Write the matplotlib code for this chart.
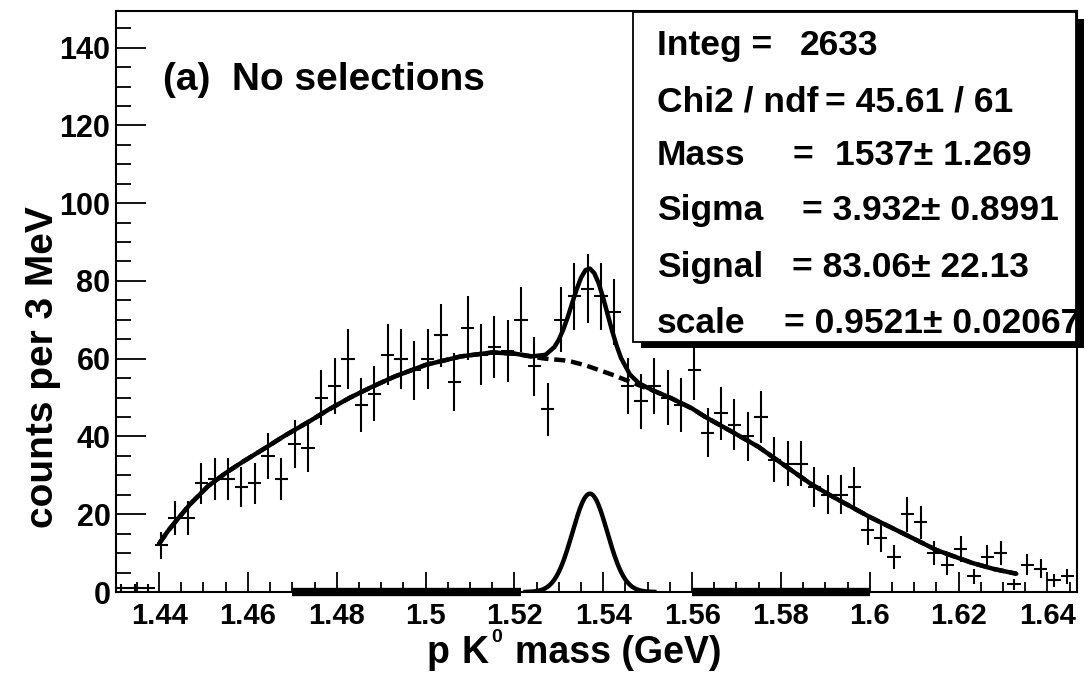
import numpy as np
import matplotlib
matplotlib.use("Agg")
from matplotlib import pyplot as plt
from matplotlib.patches import Rectangle
from matplotlib.ticker import MultipleLocator, FuncFormatter

plt.rcParams['font.family'] = ['Liberation Sans', 'DejaVu Sans']
plt.rcParams['font.weight'] = 'bold'

# histogram: 3 MeV bins starting at 1.43 GeV
mass_lo = 1.43
bin_width = 0.003
counts = [1, 1, 1, 12, 19, 19, 28, 29, 29, 27,
          28, 35, 29, 38, 37, 50, 53, 60, 48, 51,
          61, 60, 57, 60, 66, 54, 68, 61, 63, 62,
          70, 58, 47, 70, 76, 78, 76, 72, 53, 49,
          53, 50, 48, 57, 41, 46, 43, 40, 45, 34,
          33, 33, 27, 25, 25, 27, 16, 14, 9, 20,
          18, 10, 7, 11, 4, 9, 10, 2, 7, 6, 3, 4]

# background part of the fit (GeV, counts per bin)
bkg_mass = [1.4400, 1.4420, 1.4440, 1.4470, 1.4510, 1.4550, 1.4590, 1.4640,
            1.4680, 1.4740, 1.4780, 1.4830, 1.4880, 1.4930, 1.5000, 1.5080,
            1.5150, 1.5200, 1.5240, 1.5270, 1.5290, 1.5300, 1.5310, 1.5320,
            1.5330, 1.5340, 1.5350, 1.5360, 1.5370, 1.5380, 1.5390, 1.5400,
            1.5410, 1.5420, 1.5430, 1.5440, 1.5460, 1.5480, 1.5510, 1.5550,
            1.5600, 1.5630, 1.5690, 1.5750, 1.5810, 1.5870, 1.5920, 1.6000,
            1.6080, 1.6150, 1.6230, 1.6280, 1.6330]
bkg_fit = [12.4, 15.7, 18.5, 22.6, 27.2, 30.6, 33.6, 37.1,
           40.0, 44.0, 46.8, 50.0, 52.8, 55.4, 58.4, 60.6,
           61.6, 61.3, 60.5, 60.0, 59.8, 59.7, 59.6, 59.4,
           59.2, 58.9, 58.6, 58.3, 57.9, 57.5, 57.1, 56.7,
           56.3, 55.9, 55.5, 55.0, 54.1, 53.2, 51.9, 50.0,
           47.2, 45.0, 41.2, 37.3, 32.4, 27.6, 24.3, 19.3,
           14.8, 10.8, 7.5, 5.9, 4.7]

# fit results
integ = 2633
chi2, ndf = 45.61, 61
fit_mass, fit_mass_err = 1537, 1.269          # MeV
fit_sigma, fit_sigma_err = 3.932, 0.8991      # MeV
fit_signal, fit_signal_err = 83.06, 22.13
fit_scale, fit_scale_err = 0.9521, 0.02067

sideband_ranges = [(1.47, 1.5215), (1.56, 1.60)]

W, H = 1089, 676


def fpos(x, y):
    return x / W, 1 - y / H


def gauss(m):
    m = np.asarray(m)
    amp = fit_signal * bin_width * 1000 / (np.sqrt(2 * np.pi) * fit_sigma)
    return amp * np.exp(-0.5 * ((m - fit_mass / 1000) / (fit_sigma / 1000)) ** 2)


counts = np.array(counts, dtype=float)
centers = mass_lo + bin_width * (np.arange(len(counts)) + 0.5)

fig = plt.figure(figsize=(W / 100, H / 100), dpi=100)
ax = fig.add_axes([116 / W, 1 - 592 / H, (1076.7 - 116) / W, (592 - 10.7) / H])

ax.errorbar(centers, counts, xerr=bin_width / 2, yerr=np.sqrt(counts),
            fmt='none', ecolor='black', elinewidth=1.5, capsize=0, zorder=2)

# total fit = background + gaussian signal
ax.plot(bkg_mass, np.array(bkg_fit) + gauss(bkg_mass), color='black', lw=3.2,
        solid_capstyle='round', solid_joinstyle='round', zorder=4)
ax.plot(bkg_mass, bkg_fit, color='black', lw=3.2, ls=(0, (2.5, 1.3)), zorder=3)

# signal alone
m_sig = np.linspace(1.5225, 1.5515, 200)
ax.plot(m_sig, gauss(m_sig), color='black', lw=3.2, zorder=4)

for lo, hi in sideband_ranges:
    ax.plot([lo, hi], [0, 0], color='black', lw=6, solid_capstyle='butt',
            clip_on=False, zorder=5)

ax.set_xlim(1.4303, 1.6466)
ax.set_ylim(0, 149.5)
ax.xaxis.set_major_locator(MultipleLocator(0.02))
ax.xaxis.set_minor_locator(MultipleLocator(0.005))
ax.yaxis.set_major_locator(MultipleLocator(20))
ax.yaxis.set_minor_locator(MultipleLocator(5))
ax.xaxis.set_major_formatter(FuncFormatter(lambda v, _: f'{v:g}'))
ax.yaxis.set_major_formatter(FuncFormatter(lambda v, _: f'{v:g}'))
ax.tick_params(axis='x', which='major', direction='in', length=14.4, width=1.3,
               labelsize=21, pad=7)
ax.tick_params(axis='x', which='minor', direction='in', length=7.2, width=1.3)
ax.tick_params(axis='y', which='major', direction='in', length=21.6, width=1.3,
               labelsize=22, pad=4)
ax.tick_params(axis='y', which='minor', direction='in', length=10.8, width=1.3)
for s in ax.spines.values():
    s.set_linewidth(1.5)

# axis titles
fig.text(*fpos(43, 367), 'counts per 3 MeV', rotation=90, ha='center',
         va='center', fontsize=28)
fig.text(*fpos(427, 663), 'p', fontsize=27, va='baseline')
fig.text(*fpos(461, 663), 'K', fontsize=27, va='baseline')
fig.text(*fpos(491, 642), '0', fontsize=14, va='baseline')
fig.text(*fpos(515, 663), 'mass (GeV)', fontsize=27, va='baseline')

fig.text(*fpos(163, 90), '(a)  No selections', fontsize=28, va='baseline')

# stats box with shadow
fig.add_artist(Rectangle(fpos(640.5, 348.3), (1083.5 - 640.5) / W, (348.3 - 18.7) / H,
                         transform=fig.transFigure, facecolor='black',
                         edgecolor='none', zorder=6))
fig.add_artist(Rectangle(fpos(633.3, 341.7), (1076 - 633.3) / W, (341.7 - 11.7) / H,
                         transform=fig.transFigure, facecolor='white',
                         edgecolor='black', lw=1.3, zorder=7))

stat_rows = [
    (55, [(656.7, 'Integ ='), (800, f'{integ}')]),
    (111.7, [(656.7, 'Chi2 / ndf'), (825, f'= {chi2:.2f} / {ndf}')]),
    (165, [(656.7, 'Mass'), (793, '='), (835, f'{fit_mass}\u00b1 {fit_mass_err}')]),
    (220, [(656.7, 'Sigma'), (802, f'= {fit_sigma}\u00b1 {fit_sigma_err}')]),
    (276.7, [(656.7, 'Signal'), (792, f'= {fit_signal}\u00b1 {fit_signal_err}')]),
    (333.3, [(656.7, 'scale'), (784, f'= {fit_scale}\u00b1 {fit_scale_err}')]),
]
for y, parts in stat_rows:
    for x, s in parts:
        t = fig.text(*fpos(x, y), s, fontsize=25.5, va='baseline', zorder=8)
        t.set_clip_box(ax.bbox)

fig.savefig('out.png', dpi=100)
